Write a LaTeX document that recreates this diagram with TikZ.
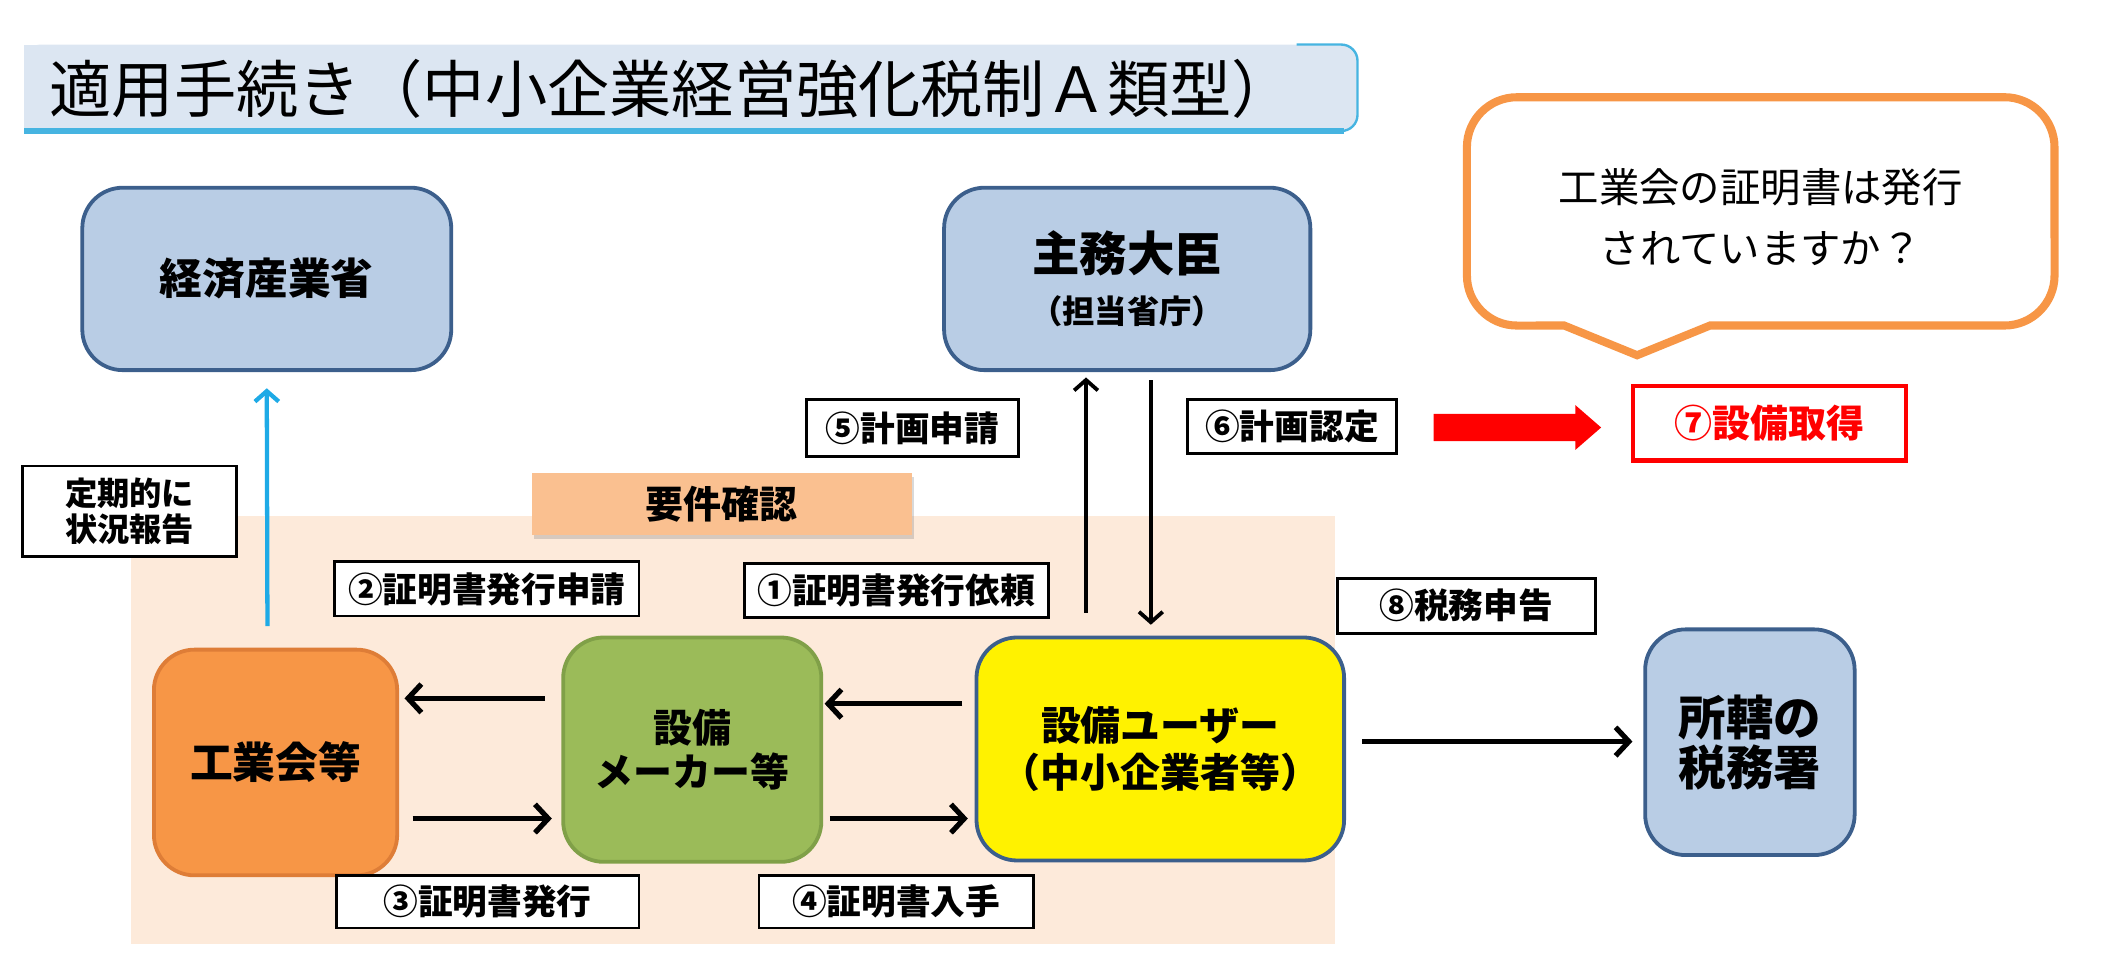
\documentclass[tikz,border=0pt]{standalone}
\usepackage{fontspec}
\setmainfont{Noto Sans CJK JP}
\usetikzlibrary{arrows.meta,shadows}

\definecolor{boxblue}{RGB}{185,205,229}
\definecolor{boxline}{RGB}{60,95,140}
\definecolor{kogyoorange}{RGB}{247,150,70}
\definecolor{kogyoline}{RGB}{222,125,55}
\definecolor{makergreen}{RGB}{155,187,89}
\definecolor{makerline}{RGB}{128,160,72}
\definecolor{bgpeach}{RGB}{253,234,218}
\definecolor{yokenorange}{RGB}{250,192,144}
\definecolor{calloutorange}{RGB}{247,150,70}
\definecolor{titlefill}{RGB}{220,230,242}
\definecolor{titleline}{RGB}{70,180,225}
\definecolor{reportblue}{RGB}{30,170,230}

\begin{document}
\begin{tikzpicture}[x=0.01cm,y=-0.01cm,
  bigbox/.style={draw=boxline,fill=boxblue,line width=0.8pt,rounded corners=0.3cm,align=center,inner sep=0,font=\bfseries\fontsize{9}{11}\selectfont},
  lab/.style={draw=black,fill=white,line width=0.6pt,inner sep=0,align=center,font=\bfseries\fontsize{7.3}{8.5}\selectfont},
  arr/.style={line width=1.1pt,-{Straight Barb[length=2.8pt,width=6pt]}},
  thinarr/.style={line width=0.8pt,-{Straight Barb[length=2.2pt,width=5pt]}},
  reportarr/.style={draw=reportblue,line width=0.9pt,-{Straight Barb[length=2.2pt,width=5pt]}}]

\useasboundingbox (0,0) rectangle (1568,722);

% title bar
\fill[titlefill,rounded corners=0.12cm] (18,33) rectangle (1005,97);
\fill[titlefill] (18,33) rectangle (900,97);
\draw[titleline,line width=0.5pt,rounded corners=0.12cm] (960,33) -- (1005,33) -- (1005,97) -- (940,97);
\draw[titleline,line width=1.2pt] (18,97) -- (995,97);
\node[anchor=west,inner sep=0,font=\fontsize{13.1}{14}\selectfont] (title) at (36,66) {適用手続き（中小企業経営強化税制Ａ類型）};

% requirement area
\fill[bgpeach] (97,382) rectangle (988,699);

\node[bigbox,minimum width=2.73cm,minimum height=1.35cm] (meti) at (197.5,206.5) {経済産業省};
\node[bigbox,minimum width=2.71cm,minimum height=1.35cm,font=\bfseries\fontsize{10}{11}\selectfont] (minister) at (834.5,206.5) {主務大臣\\{\fontsize{6.8}{8}\selectfont （担当省庁）}};
\node[bigbox,fill=kogyoorange,draw=kogyoline,minimum width=1.8cm,minimum height=1.67cm] (kogyo) at (204,564.5) {工業会等};
\node[bigbox,fill=makergreen,draw=makerline,minimum width=1.91cm,minimum height=1.66cm,font=\bfseries\fontsize{8.2}{9.4}\selectfont] (maker) at (512.5,555) {設備\\メーカー等};
\node[bigbox,fill=yellow,minimum width=2.72cm,minimum height=1.65cm,font=\bfseries\fontsize{8.4}{10}\selectfont] (user) at (859,554.5) {設備ユーザー\\（中小企業者等）};
\node[bigbox,minimum width=1.55cm,minimum height=1.67cm,font=\bfseries\fontsize{10}{10.5}\selectfont] (zeimusho) at (1295.5,549.5) {所轄の\\税務署};

\node[lab,minimum width=1.58cm,minimum height=0.67cm,font=\bfseries\fontsize{6.8}{7.7}\selectfont] (teiki) at (96,378.5) {定期的に\\状況報告};
\node[fill=yokenorange,inner sep=0,minimum width=2.81cm,minimum height=0.46cm,font=\bfseries\fontsize{8}{9}\selectfont,drop shadow={shadow xshift=0.4pt,shadow yshift=-0.8pt,opacity=0.3}] (yoken) at (534.5,373) {要件確認};
\node[lab,minimum width=2.25cm,minimum height=0.40cm] (l1) at (663.5,437) {①証明書発行依頼};
\node[lab,minimum width=2.25cm,minimum height=0.40cm] (l2) at (360.5,436) {②証明書発行申請};
\node[lab,minimum width=2.24cm,minimum height=0.39cm] (l3) at (361,667.5) {③証明書発行};
\node[lab,minimum width=2.03cm,minimum height=0.39cm] (l4) at (663.5,667.5) {④証明書入手};
\node[lab,minimum width=1.57cm,minimum height=0.42cm] (l5) at (675.5,317) {⑤計画申請};
\node[lab,minimum width=1.55cm,minimum height=0.40cm] (l6) at (956.5,316) {⑥計画認定};
\node[lab,minimum width=1.91cm,minimum height=0.41cm] (l8) at (1085.5,448.5) {⑧税務申告};
\node[lab,draw=red,text=red,line width=0.9pt,minimum width=2.02cm,minimum height=0.55cm,font=\bfseries\fontsize{8}{9}\selectfont] (acq) at (1310,313.5) {⑦設備取得};

% question balloon
\draw[calloutorange,fill=white,line width=1.7pt,line join=miter] (1266,241) -- (1484,241) arc[start angle=-90,end angle=0,radius=0.37cm]
  -- (1521,109) arc[start angle=0,end angle=90,radius=0.37cm]
  -- (1123,72) arc[start angle=90,end angle=180,radius=0.37cm]
  -- (1086,204) arc[start angle=180,end angle=270,radius=0.37cm]
  -- (1158,241) -- (1212,263) -- cycle;
\node[align=center,inner sep=0,font=\fontsize{8.5}{12.8}\selectfont] (q) at (1303.5,161) {工業会の証明書は発行\\されていますか？};

% connectors
\draw[reportarr] ([shift={(-6,-16)}]kogyo.north) -- ([shift={(0,12)}]meti.south);
\draw[thinarr] ([shift={(-55,-17)}]user.north) -- ([shift={(-30.5,4)}]minister.south);
\draw[thinarr] ([shift={(17.5,6)}]minister.south) -- ([shift={(-7,-8)}]user.north);
\draw[arr] ([shift={(-12,-38)}]maker.west) -- ([shift={(4,-47.5)}]kogyo.east);
\draw[arr] ([shift={(10,41.5)}]kogyo.east) -- ([shift={(-7,51)}]maker.west);
\draw[arr] ([shift={(-9,-33.5)}]user.west) -- ([shift={(1,-34)}]maker.east);
\draw[arr] ([shift={(5,51)}]maker.east) -- ([shift={(-5,51.5)}]user.west);
\draw[arr] ([shift={(12,-5.5)}]user.east) -- ([shift={(-8,-0.5)}]zeimusho.west);

\coordinate (rtip) at ([shift={(-22,3)}]acq.west);
\fill[red] (rtip) -- ++(-19,-16.5) -- ++(0,6.5) -- ++(-105,0) -- ++(0,20) -- ++(105,0) -- ++(0,6.5) -- cycle;

\end{tikzpicture}
\end{document}
